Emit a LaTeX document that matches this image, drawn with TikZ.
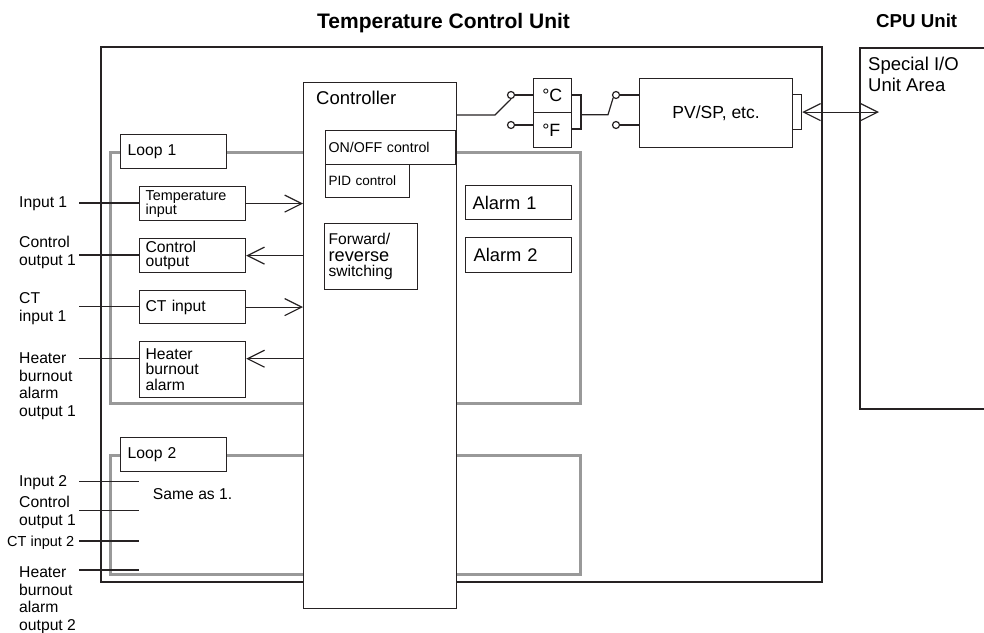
\documentclass[tikz,border=0pt]{standalone}
\usepackage{fontspec}
\setmainfont{Liberation Sans}
\usetikzlibrary{arrows.meta}
\definecolor{ink}{RGB}{38,34,35}
\definecolor{loopgray}{RGB}{153,153,153}
\tikzset{
  wire/.style={draw=ink, line width=1.2pt},
  barb/.style={-{Straight Barb[length=17pt,width=17pt]}},
  box/.style={draw=ink, fill=white, line width=1.2pt, anchor=north west, align=left, inner ysep=0pt},
  loopbox/.style={draw=loopgray, line width=3pt},
  term/.style={circle, draw=ink, fill=white, line width=1.2pt, inner sep=0pt, minimum size=7pt},
  lbl/.style={anchor=north west, inner sep=0pt, align=left, font=\fontsize{15.7}{17.5}\selectfont},
}
\begin{document}
\begin{tikzpicture}[x=1pt,y=-1pt,font=\fontsize{15.7}{15}\selectfont]
  \useasboundingbox (0,0) rectangle (984,632);

  % titles
  \node[anchor=base west, inner sep=0pt, font=\bfseries\fontsize{21}{24}\selectfont] (tcutitle) at (317,28.3) {Temperature Control Unit};
  \node[anchor=base west, inner sep=0pt, font=\bfseries\fontsize{18.7}{22}\selectfont] (cputitle) at (876,27.3) {CPU Unit};

  % unit frames
  \draw[wire] (101,47) rectangle (822,582);
  \draw[wire] (984,48) -| (860,409) -- (984,409);
  \node[lbl, font=\fontsize{18.5}{21}\selectfont] (cpuarea) at (868,57.3) {Special I/O\\Unit Area};

  % loops
  \draw[loopbox] (110,152) rectangle (580,403);
  \draw[loopbox] (110,455) rectangle (580,574);
  \node[box, inner xsep=7pt, text width=92pt, minimum height=34pt] (loopA) at (120,134) {Loop 1};
  \node[box, inner xsep=7pt, text width=92pt, minimum height=34pt] (loopB) at (120,437) {Loop 2};

  % controller
  \node[box, inner sep=0pt, minimum width=153pt, minimum height=526pt] (ctrl) at (303,82) {};
  \node[anchor=north west, inner sep=0pt, font=\fontsize{18.5}{20}\selectfont] (ctrltxt) at (316,90.7) {Controller};
  \node[box, inner xsep=3pt, text width=124pt, minimum height=34pt, font=\fontsize{14.2}{15}\selectfont] (onoff) at (325,130) {ON/OFF control};
  \node[box, inner xsep=3pt, text width=78pt, minimum height=33pt, font=\fontsize{13.5}{15}\selectfont] (pid) at (325,164) {PID control};
  \node[box, inner xsep=4pt, text width=85pt, minimum height=66pt, font=\fontsize{15.6}{15.5}\selectfont] (fwd) at (324,223) {Forward/\\[1.5pt]{\fontsize{18.2}{15.5}\selectfont reverse}\\[-1pt]switching};
  \node[box, inner xsep=7pt, text width=92pt, minimum height=34pt, font=\fontsize{18.3}{20}\selectfont] (alA) at (465,185) {Alarm 1};
  \node[box, inner xsep=8pt, text width=90pt, minimum height=35pt, font=\fontsize{18.3}{20}\selectfont] (alB) at (465,237) {Alarm 2};

  % loop 1 blocks
  \node[box, inner xsep=6pt, text width=94pt, minimum height=34pt, font=\fontsize{14.4}{14}\selectfont] (tin) at (139,186) {Temperature\\input};
  \node[box, inner xsep=6pt, text width=94pt, minimum height=34pt, font=\fontsize{15.7}{14.5}\selectfont] (cout) at (139,238) {Control\\output};
  \node[box, inner xsep=6pt, text width=94pt, minimum height=33pt] (ctin) at (139,290) {CT input};
  \node[box, inner xsep=6pt, text width=94pt, minimum height=56pt, font=\fontsize{15.7}{15.5}\selectfont] (hba) at (139,341) {Heater\\burnout\\alarm};
  \node[lbl] (same) at (152.7,488) {Same as 1.};

  % terminal labels
  \node[lbl] (lin1) at (19,196.7) {Input 1};
  \node[lbl] (lco1) at (19,236) {Control\\output 1};
  \node[lbl] (lct1) at (19,292.7) {CT\\input 1};
  \node[lbl] (lhb1) at (19,352.7) {Heater\\burnout\\alarm\\output 1};
  \node[lbl] (lin2) at (19,475) {Input 2};
  \node[lbl] (lco2) at (19,496) {Control\\output 1};
  \node[lbl, font=\fontsize{14.5}{17}\selectfont] (lct2) at (7,535.5) {CT input 2};
  \node[lbl] (lhb2) at (19,566.7) {Heater\\burnout\\alarm\\output 2};

  \coordinate (w1) at (79,203);
  \coordinate (w2) at (79,255);
  \coordinate (w3) at (79,306.5);
  \coordinate (w4) at (79,358.7);
  \coordinate (v1) at (79,481.7);
  \coordinate (v2) at (79,510.7);
  \coordinate (v3) at (79,541);
  \coordinate (v4) at (79,570);

  \draw[wire] (w1) -- (w1 -| tin.west);
  \draw[wire, barb] (tin.east) -- (tin.east -| ctrl.west);
  \draw[wire] (w2) -- (w2 -| cout.west);
  \draw[wire, barb] (cout.east -| ctrl.west) -- (cout.east);
  \draw[wire] (w3) -- (w3 -| ctin.west);
  \draw[wire, barb] (ctin.east) -- (ctin.east -| ctrl.west);
  \draw[wire] (w4) -- (w4 -| hba.west);
  \draw[wire, barb] (w4 -| ctrl.west) -- (w4 -| hba.east);
  \foreach \v in {v1,v2,v3,v4}
    \draw[wire] (\v) -- (\v -| tin.west);

  % unit switch and data area
  \node[box, align=left, inner xsep=8.7pt, text width=20.6pt, minimum height=34pt, font=\fontsize{17.8}{20}\selectfont] (degC) at (533,78) {°C};
  \node[box, align=left, inner xsep=8.7pt, text width=20.6pt, minimum height=35pt, font=\fontsize{17.8}{20}\selectfont] (degF) at (533,112) {\raisebox{-3pt}{°F}};
  \node[box, align=center, inner sep=0pt, minimum width=153pt, minimum height=69pt, font=\fontsize{17.5}{20}\selectfont] (pvsp) at (639,78) {PV/SP, etc.};
  \node[box, inner sep=0pt, minimum width=9pt, minimum height=35pt] (pvport) at (792,94) {};
  \node[term] (t1) at (511,95) {};
  \node[term] (t2) at (511,125) {};
  \node[term] (t3) at (616,95) {};
  \node[term] (t4) at (616,125) {};
  \coordinate (sw1) at (495,115);
  \coordinate (sw2) at (608,114.7);
  \coordinate (cpuin) at (879,112);

  \draw[wire] (ctrl.east |- sw1) -- (sw1) -- (t1.south);
  \draw[wire] (t1.east) -- (t1 -| degC.west);
  \draw[wire] (t2.east) -- (t2 -| degC.west);
  \draw[wire] (degC.east |- t1) -| (581,129) -- (degF.east |- 0,129);
  \draw[wire] (581,114.7) -- (sw2) -- (t3.south west);
  \draw[wire] (t3.east) -- (t3 -| pvsp.west);
  \draw[wire] (t4.east) -- (t4 -| pvsp.west);
  \draw[wire, {Straight Barb[length=17pt,width=17pt]}-{Straight Barb[length=17pt,width=17pt]}] (pvport.east) -- (pvport.east -| cpuin);
\end{tikzpicture}
\end{document}
